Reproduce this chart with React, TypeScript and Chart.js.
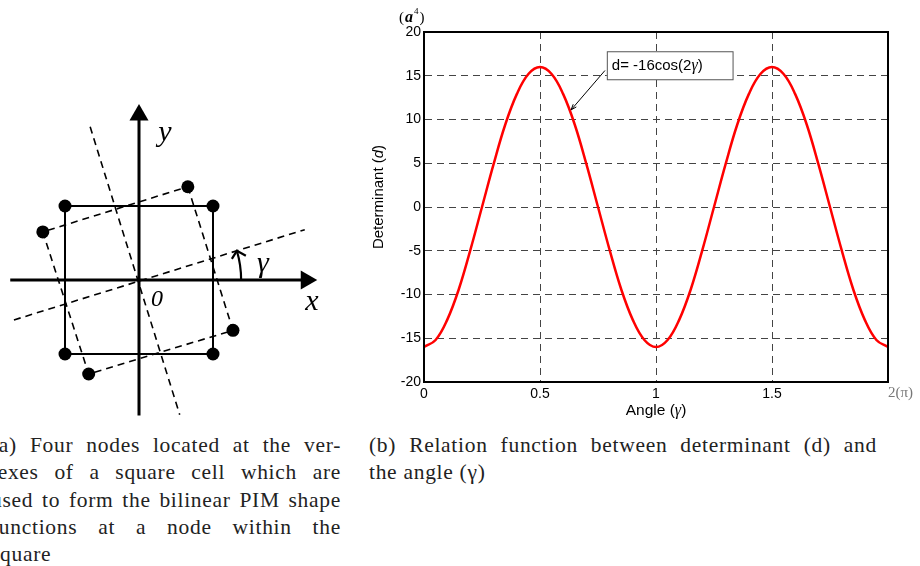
import React, { useEffect, useRef } from 'react';
import { Chart, registerables } from 'chart.js';
Chart.register(...registerables);

// ---------- Right chart data (b) ----------
const ANGLE = [0, 0.05, 0.1, 0.15, 0.2, 0.25, 0.3, 0.35, 0.4, 0.45, 0.5, 0.55, 0.6, 0.65, 0.7, 0.75, 0.8, 0.85, 0.9, 0.95, 1,
  1.05, 1.1, 1.15, 1.2, 1.25, 1.3, 1.35, 1.4, 1.45, 1.5, 1.55, 1.6, 1.65, 1.7, 1.75, 1.8, 1.85, 1.9, 1.95, 2];
const DETERMINANT = [-16, -15.2, -12.9, -9.4, -4.9, 0, 4.9, 9.4, 12.9, 15.2, 16, 15.2, 12.9, 9.4, 4.9, 0, -4.9, -9.4, -12.9, -15.2, -16,
  -15.2, -12.9, -9.4, -4.9, 0, 4.9, 9.4, 12.9, 15.2, 16, 15.2, 12.9, 9.4, 4.9, 0, -4.9, -9.4, -12.9, -15.2, -16];
const X_TICKS = [0, 0.5, 1, 1.5, 2];
const Y_TICKS = [-20, -15, -10, -5, 0, 5, 10, 15, 20];
const X_LAST_LABEL = '2(π)';
const Y_UNIT = ['(', 'a', '4', ')'];
const ANNOT_RUNS = [['d= -16cos(2', false], ['γ', true], [')', false]] as [string, boolean][];
const ANNOT_BOX = { x0: 0.788, x1: 1.33, y0: 14.6, y1: 17.8 };
const ANNOT_ARROW = { fromX: 0.78, fromY: 15.6, toX: 0.634, toY: 11.1 };

// ---------- Left diagram data (a) ----------
const SQUARE_X = [-1, 1, 1, -1, -1];
const SQUARE_Y = [1, 1, -1, -1, 1];
const ROT_X = [0.66, 1.27, -0.68, -1.3, 0.66];
const ROT_Y = [1.26, -0.68, -1.27, 0.65, 1.26];
const ROT_AXIS1_X = [-1.69, 2.24];
const ROT_AXIS1_Y = [-0.54, 0.68];
const ROT_AXIS2_X = [-0.66, 0.55];
const ROT_AXIS2_Y = [2.07, -1.82];
const AXIS_X_X = [-1.74, 2.26];
const AXIS_X_Y = [0, 0];
const AXIS_Y_X = [0, 0];
const AXIS_Y_Y = [-1.83, 2.23];

const CAPTION_A = [
  '(a) Four nodes located at the ver-',
  'texes of a square cell which are',
  'used to form the bilinear PIM shape',
  'functions at a node within the',
  'square',
];
const CAPTION_B = [
  '(b) Relation function between determinant (d) and',
  'the angle (γ)',
];

const pts = (xs: number[], ys: number[]) => xs.map((x, i) => ({ x, y: ys[i] }));

function drawRuns(ctx: CanvasRenderingContext2D, runs: [string, string][], x: number, y: number, align: 'left' | 'center') {
  let total = 0;
  runs.forEach(([t, f]) => { ctx.font = f; total += ctx.measureText(t).width; });
  let cx = align === 'center' ? x - total / 2 : x;
  ctx.textAlign = 'left';
  runs.forEach(([t, f]) => { ctx.font = f; ctx.fillText(t, cx, y); cx += ctx.measureText(t).width; });
}

function RightChart() {
  const ref = useRef<HTMLCanvasElement>(null);
  useEffect(() => {
    const sans = '"Liberation Sans", Arial, sans-serif';
    const plugin = {
      id: 'decor',
      afterDraw(chart: any) {
        const { ctx, chartArea: a, scales } = chart;
        const xs = scales.x, ys = scales.y;
        ctx.save();
        ctx.strokeStyle = '#000';
        ctx.lineWidth = 2;
        ctx.strokeRect(a.left, a.top, a.right - a.left, a.bottom - a.top);
        ctx.fillStyle = '#000';
        ctx.textBaseline = 'middle';
        // y unit (a^4)
        ctx.font = '15px "Liberation Serif", serif';
        let ux = a.left - 25;
        const uy = a.top - 14;
        ctx.textAlign = 'left';
        ctx.fillText(Y_UNIT[0], ux, uy); ux += ctx.measureText(Y_UNIT[0]).width + 1;
        ctx.font = 'italic bold 16px "Liberation Serif", serif';
        ctx.fillText(Y_UNIT[1], ux, uy); ux += ctx.measureText(Y_UNIT[1]).width + 1;
        ctx.font = '9px "Liberation Serif", serif';
        ctx.fillText(Y_UNIT[2], ux, uy - 6); ux += ctx.measureText(Y_UNIT[2]).width + 1;
        ctx.font = '15px "Liberation Serif", serif';
        ctx.fillText(Y_UNIT[3], ux, uy);
        // last x label
        ctx.fillStyle = '#777';
        ctx.font = '15px "Liberation Serif", serif';
        ctx.fillText(X_LAST_LABEL, a.right, a.bottom + 11);
        ctx.fillStyle = '#000';
        // axis titles
        drawRuns(ctx, [['Angle (', `15.5px ${sans}`], ['γ', 'italic 16px "Liberation Serif", serif'], [')', `15.5px ${sans}`]], (a.left + a.right) / 2, a.bottom + 29, 'center');
        ctx.save();
        ctx.translate(a.left - 45, (a.top + a.bottom) / 2 - 10);
        ctx.rotate(-Math.PI / 2);
        drawRuns(ctx, [['Determinant (', `15px ${sans}`], ['d', `italic 15px ${sans}`], [')', `15px ${sans}`]], 0, 0, 'center');
        ctx.restore();
        // annotation arrow
        const fx = xs.getPixelForValue(ANNOT_ARROW.fromX), fy = ys.getPixelForValue(ANNOT_ARROW.fromY);
        const tx = xs.getPixelForValue(ANNOT_ARROW.toX), ty = ys.getPixelForValue(ANNOT_ARROW.toY);
        ctx.strokeStyle = '#000';
        ctx.lineWidth = 1;
        ctx.beginPath(); ctx.moveTo(fx, fy); ctx.lineTo(tx, ty); ctx.stroke();
        const ang = Math.atan2(ty - fy, tx - fx);
        ctx.beginPath();
        ctx.moveTo(tx, ty);
        ctx.lineTo(tx - 6 * Math.cos(ang - 0.35), ty - 6 * Math.sin(ang - 0.35));
        ctx.moveTo(tx, ty);
        ctx.lineTo(tx - 6 * Math.cos(ang + 0.35), ty - 6 * Math.sin(ang + 0.35));
        ctx.stroke();
        // annotation box
        const bx0 = xs.getPixelForValue(ANNOT_BOX.x0), bx1 = xs.getPixelForValue(ANNOT_BOX.x1);
        const by0 = ys.getPixelForValue(ANNOT_BOX.y1), by1 = ys.getPixelForValue(ANNOT_BOX.y0);
        ctx.fillStyle = '#fff';
        ctx.fillRect(bx0, by0, bx1 - bx0, by1 - by0);
        ctx.strokeStyle = '#555';
        ctx.strokeRect(bx0 + 0.5, by0 + 0.5, bx1 - bx0, by1 - by0);
        ctx.fillStyle = '#000';
        drawRuns(ctx, ANNOT_RUNS.map(([t, it]) => [t, it ? 'italic 16px "Liberation Serif", serif' : `15px ${sans}`]) as [string, string][], bx0 + 5, (by0 + by1) / 2 + 1, 'left');
        ctx.restore();
      },
    };
    const chart = new Chart(ref.current!, {
      type: 'line',
      data: {
        datasets: [{
          data: pts(ANGLE, DETERMINANT),
          borderColor: '#ff0000',
          borderWidth: 2.5,
          pointRadius: 0,
          tension: 0.4,
          fill: false,
        }],
      },
      options: {
        animation: false,
        responsive: false,
        devicePixelRatio: 1,
        layout: { autoPadding: false, padding: { top: 32, right: 32, left: 0, bottom: 0 } },
        plugins: { legend: { display: false }, tooltip: { enabled: false } },
        scales: {
          x: {
            type: 'linear', min: 0, max: 2,
            afterBuildTicks: (s: any) => { s.ticks = X_TICKS.map((v) => ({ value: v })); },
            afterFit: (s: any) => { s.height = 38; },
            ticks: {
              color: '#000', padding: 4, font: { family: 'Liberation Sans', size: 14 },
              callback: (v: any) => (v === 2 ? '' : String(v)),
            },
            grid: {
              drawTicks: false, lineWidth: 1,
              color: (c: any) => (c.tick && (c.tick.value === 0 || c.tick.value === 2) ? 'rgba(0,0,0,0)' : '#444'),
            },
            border: { display: true, color: '#000', width: 2, dash: [7, 5] },
          },
          y: {
            type: 'linear', min: -20, max: 20,
            afterBuildTicks: (s: any) => { s.ticks = Y_TICKS.map((v) => ({ value: v })); },
            afterFit: (s: any) => { s.width = 64; },
            ticks: { color: '#000', padding: 3, font: { family: 'Liberation Sans', size: 14 } },
            grid: {
              drawTicks: false, lineWidth: 1,
              color: (c: any) => (c.tick && (c.tick.value === -20 || c.tick.value === 20) ? 'rgba(0,0,0,0)' : '#444'),
            },
            border: { display: true, color: '#000', width: 2, dash: [7, 5] },
          },
        },
      } as any,
      plugins: [plugin],
    });
    return () => chart.destroy();
  }, []);
  return <canvas ref={ref} width={560} height={420} style={{ position: 'absolute', left: 360, top: 0, width: 560, height: 420 }} />;
}

function LeftDiagram() {
  const ref = useRef<HTMLCanvasElement>(null);
  useEffect(() => {
    const PX = 74;
    const plugin = {
      id: 'arc',
      afterDraw(chart: any) {
        const { ctx, scales } = chart;
        const cx = scales.x.getPixelForValue(0), cy = scales.y.getPixelForValue(0);
        const r = 1.38 * PX;
        const end = -0.29;
        ctx.save();
        ctx.strokeStyle = '#000';
        ctx.lineWidth = 2.2;
        ctx.beginPath();
        ctx.arc(cx, cy, r, 0, end, true);
        ctx.stroke();
        const ex = cx + r * Math.cos(end), ey = cy + r * Math.sin(end);
        ctx.beginPath();
        ctx.moveTo(ex - 5, ey + 8); ctx.lineTo(ex, ey); ctx.lineTo(ex + 9, ey + 5);
        ctx.stroke();
        ctx.restore();
      },
    };
    const line = (data: any, dashed: boolean, width: number, extra: any = {}) => ({
      data, showLine: true, borderColor: '#000', backgroundColor: '#000', borderWidth: width,
      borderDash: dashed ? [7, 5] : [], pointRadius: 0, tension: 0, fill: false, clip: false, ...extra,
    });
    const chart = new Chart(ref.current!, {
      type: 'scatter',
      data: {
        datasets: [
          line(pts(ROT_AXIS1_X, ROT_AXIS1_Y), true, 1.6),
          line(pts(ROT_AXIS2_X, ROT_AXIS2_Y), true, 1.6),
          line(pts(ROT_X, ROT_Y), true, 1.6, { pointRadius: [6.5, 6.5, 6.5, 6.5, 0], pointBorderWidth: 0 }),
          line(pts(SQUARE_X, SQUARE_Y), false, 2, { pointRadius: [6.5, 6.5, 6.5, 6.5, 0], pointBorderWidth: 0 }),
          line(pts(AXIS_X_X, AXIS_X_Y), false, 3, { pointRadius: [0, 11], pointStyle: 'triangle', rotation: [0, 90], pointBorderWidth: 0 }),
          line(pts(AXIS_Y_X, AXIS_Y_Y), false, 3, { pointRadius: [0, 11], pointStyle: 'triangle', rotation: [0, 0], pointBorderWidth: 0 }),
        ],
      },
      options: {
        animation: false,
        responsive: false,
        devicePixelRatio: 1,
        layout: { autoPadding: false, padding: 0 },
        plugins: { legend: { display: false }, tooltip: { enabled: false } },
        scales: {
          x: { type: 'linear', display: false, min: -139 / PX, max: (360 - 139) / PX },
          y: { type: 'linear', display: false, min: (280 - 430) / PX, max: 280 / PX },
        },
      } as any,
      plugins: [plugin],
    });
    return () => chart.destroy();
  }, []);
  return <canvas ref={ref} width={360} height={430} style={{ position: 'absolute', left: 0, top: 0, width: 360, height: 430 }} />;
}

const label = (text: string, x: number, y: number, size: number, italic = true) => (
  <span style={{
    position: 'absolute', left: x, top: y, transform: 'translate(-50%,-50%)', fontFamily: '"Liberation Serif", serif',
    fontStyle: italic ? 'italic' : 'normal', fontSize: size, lineHeight: 1, color: '#000',
  }}>{text}</span>
);

const capStyle: React.CSSProperties = {
  fontFamily: '"Liberation Serif", serif', fontSize: 21.5, letterSpacing: '0.7px', lineHeight: '27.3px', color: '#222', whiteSpace: 'nowrap',
};

export default function App() {
  return (
    <div style={{ position: 'absolute', left: 0, top: 0, width: 920, height: 566, background: '#fff', overflow: 'hidden' }}>
      <LeftDiagram />
      {label('y', 165, 131, 30)}
      {label('x', 312, 300, 30)}
      {label('0', 157, 298, 24)}
      {label('γ', 263, 262, 30)}
      <RightChart />
      <div style={{ position: 'absolute', left: -9, top: 432, width: 350 }}>
        {CAPTION_A.map((t, i) => (
          <div key={i} style={{ ...capStyle, textAlign: 'justify', textAlignLast: i < CAPTION_A.length - 1 ? 'justify' : 'left' }}>{t}</div>
        ))}
      </div>
      <div style={{ position: 'absolute', left: 369, top: 432, width: 508 }}>
        {CAPTION_B.map((t, i) => (
          <div key={i} style={{ ...capStyle, textAlign: 'justify', textAlignLast: i < CAPTION_B.length - 1 ? 'justify' : 'left' }}>{t}</div>
        ))}
      </div>
    </div>
  );
}
